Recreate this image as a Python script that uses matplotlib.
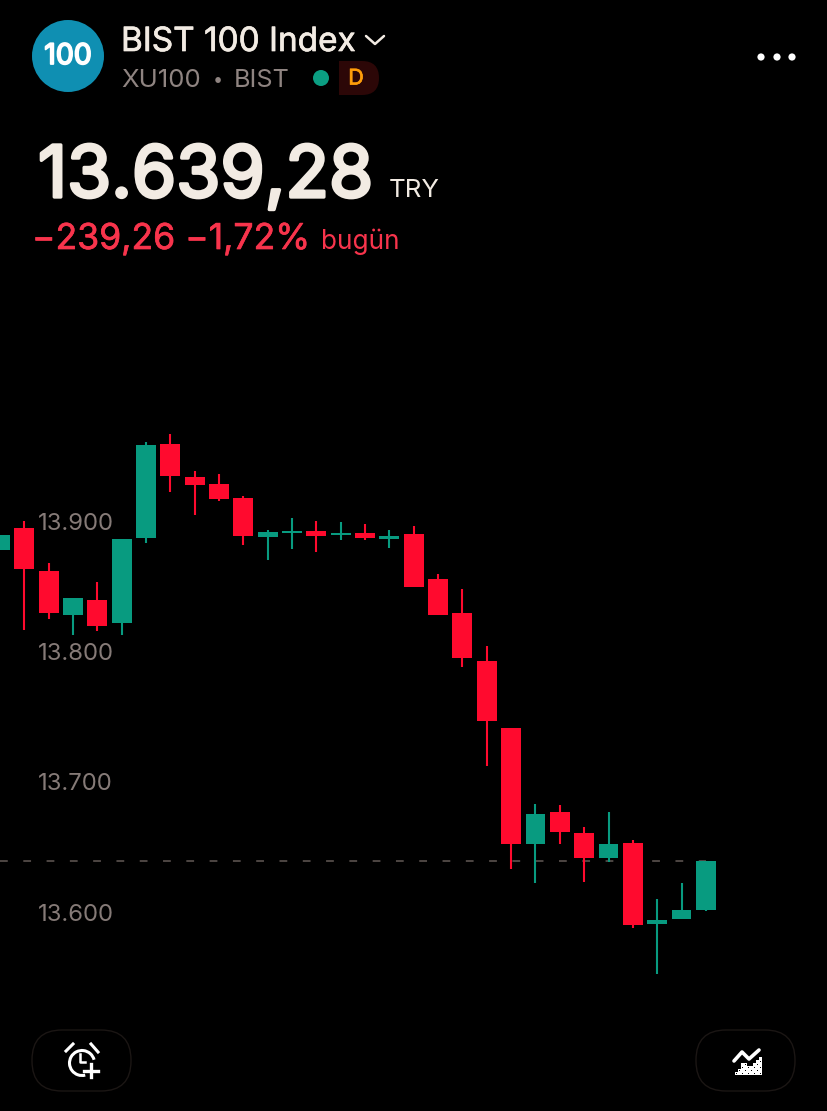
import matplotlib
matplotlib.use('Agg')
import matplotlib.pyplot as plt
import matplotlib.patheffects as pe
from matplotlib.patches import Circle, FancyBboxPatch, Rectangle, Arc, PathPatch
from matplotlib.path import Path
from matplotlib.ticker import FuncFormatter
import numpy as np

# candle values
opens = [13878, 13894.7, 13861.7, 13828, 13839.4, 13821.8, 13887, 13959.2, 13933.8, 13928.5,
         13917.7, 13887.8, 13890.9, 13892.4, 13889.3, 13890.9, 13886.3, 13890.1, 13855.6, 13829.5,
         13792.6, 13741.2, 13652.2, 13676.7, 13660.6, 13641.4, 13653, 13590.8, 13594.6, 13601.5]
closes = [13889.3, 13863.2, 13829.5, 13841, 13819.5, 13886.3, 13958.4, 13934.6, 13927.7, 13917,
          13888.6, 13891.6, 13892.4, 13888.6, 13890.9, 13887, 13888.6, 13849.4, 13827.9, 13794.9,
          13746.6, 13652.2, 13675.2, 13661.4, 13641.4, 13652.2, 13590, 13593.9, 13601.5, 13639.28]
highs = [13889.3, 13900, 13867.8, 13841, 13853.3, 13886.3, 13960.7, 13966.8, 13938.4, 13936.1,
         13919.3, 13893.2, 13902.4, 13900.1, 13899.3, 13897.8, 13893.2, 13896.2, 13859.4, 13847.9,
         13804.1, 13741.2, 13682.9, 13682.1, 13665.2, 13676.7, 13655.3, 13610, 13622.3, 13639.28]
lows = [13878, 13816.4, 13824.9, 13812.6, 13815.7, 13812.6, 13883.2, 13922.3, 13904.7, 13915.4,
        13881.7, 13870.1, 13878.6, 13876.3, 13885.5, 13885.5, 13879.4, 13849.4, 13827.9, 13788,
        13712, 13633, 13622.3, 13652.2, 13623, 13638.4, 13587.7, 13552.4, 13594.6, 13600.8]
price_ticks = [13600, 13700, 13800, 13900]
last_price = 13639.28

RED = '#ff0a2e'
GREEN = '#089b80'
CREAM = '#f2ebe3'
GREY = '#8f8481'
RED_TEXT = '#f8344c'
W, H = 827, 1111
PX_X = 24.34   # pixels per candle
PX_Y = 1.303   # pixels per price unit

plt.rcParams['font.family'] = ['Inter', 'DejaVu Sans']


def heavier(color, width):
    # the installed Inter only draws one weight, thicken it with a stroke
    return [pe.withStroke(linewidth=width, foreground=color)]


fig = plt.figure(figsize=(W / 100, H / 100), dpi=100, facecolor='black')

# price chart fills the whole figure, ticks sit inside
ax = fig.add_axes([0, 0, 1, 1], facecolor='black')
ax.set_xlim(0, W / PX_X)
ax.set_ylim(13600 + (912 - H) / PX_Y, 13600 + 912 / PX_Y)
for s in ax.spines.values():
    s.set_visible(False)
ax.set_xticks([])
ax.set_yticks(price_ticks)
ax.yaxis.set_major_formatter(FuncFormatter(lambda v, p: f'{int(v):,}'.replace(',', '.')))
ax.tick_params(axis='y', length=0, pad=-27.4, labelsize=17.2, labelcolor='#857a77', direction='in')
for lab in ax.get_yticklabels():
    lab.set_ha('left')

x = np.arange(len(opens))
colors = [GREEN if c >= o else RED for o, c in zip(opens, closes)]

ax.plot([0, x[-1]], [last_price, last_price], color='#544c49', lw=1.3,
        dashes=(4.3, 8.6), zorder=1)
ax.vlines(x, lows, highs, colors=colors, lw=1.5, zorder=2)
ax.bar(x, np.abs(np.array(closes) - np.array(opens)), bottom=np.minimum(opens, closes),
       width=0.82, color=colors, zorder=3)

# header and buttons use a pixel overlay
ov = fig.add_axes([0, 0, 1, 1], facecolor='none')
ov.set_xlim(0, W)
ov.set_ylim(H, 0)
ov.axis('off')

ov.add_patch(Circle((68, 56), 36, fc='#0f8fb2', ec='none'))
ov.text(68, 56.5, '100', color='white', fontsize=20.5, ha='center', va='center',
        path_effects=heavier('white', 1.3))
ov.text(121, 51, 'BIST 100 Index', color=CREAM, fontsize=24, va='baseline',
        path_effects=heavier(CREAM, 0.5))
ov.plot([366, 375, 384], [36, 44, 36], color=CREAM, lw=1.8, solid_capstyle='round')
ov.text(121, 87, 'XU100', color=GREY, fontsize=18.6, va='baseline')
ov.text(218, 85, '•', color=GREY, fontsize=13, va='baseline', ha='center')
ov.text(234, 87, 'BIST', color=GREY, fontsize=18.2, va='baseline')
ov.add_patch(Circle((321, 78), 8, fc='#0b9e82', ec='none'))

# D badge: square on the left, rounded on the right
badge = Path([(339, 61), (362, 61), (379, 61), (379, 78), (379, 95), (362, 95), (339, 95), (339, 61)],
             [Path.MOVETO, Path.LINETO, Path.CURVE3, Path.CURVE3, Path.CURVE3, Path.CURVE3, Path.LINETO, Path.CLOSEPOLY])
ov.add_patch(PathPatch(badge, fc='#2c0707', ec='none'))
ov.text(356, 78.5, 'D', color='#ff9d0a', fontsize=15.5, ha='center', va='center',
        path_effects=heavier('#ff9d0a', 0.5))

ov.text(38, 197, '13.639,28', color=CREAM, fontsize=51.5, va='baseline',
        path_effects=heavier(CREAM, 2.4))
ov.text(389, 197, 'TRY', color=CREAM, fontsize=18.6, va='baseline')
ov.text(32, 249, '−239,26 −1,72%', color=RED_TEXT, fontsize=25.6, va='baseline',
        path_effects=heavier(RED_TEXT, 0.5))
ov.text(321, 249, 'bugün', color=RED_TEXT, fontsize=18.8, va='baseline')

for dx in [761, 777, 792]:
    ov.add_patch(Circle((dx, 57), 3.6, fc='white', ec='none'))

# pill buttons
for bx in [32, 696]:
    ov.add_patch(FancyBboxPatch((bx + 30, 1030 + 30), 99 - 60, 1, boxstyle='round,pad=30',
                                fc='none', ec='#1b1614', lw=1))

# alarm icon
ov.add_patch(Arc((82, 1063), 25, 25, theta1=75, theta2=-15 + 360, angle=0, color='white', lw=2.2))
ov.plot([66, 73], [1051, 1044], color='white', lw=2.2)
ov.plot([91, 98], [1044, 1052], color='white', lw=2.2)
ov.plot([80, 80, 85], [1054, 1062, 1062], color='white', lw=1.8)
ov.plot([91, 91], [1064, 1077], color='white', lw=2.4)
ov.plot([84, 98], [1070.5, 1070.5], color='white', lw=2.4)

# chart icon
ov.plot([734, 742, 749, 759], [1061, 1052, 1059, 1050], color='white', lw=2.6, solid_capstyle='round')
px = [732, 742, 748, 760]
py = [1074, 1061, 1067, 1056]
for i, ix in enumerate(range(732, 760, 3)):
    top = np.interp(ix, px, py)
    for j, iy in enumerate(range(1057, 1074, 3)):
        if iy >= top:
            ov.add_patch(Rectangle((ix, iy), 3, 3, fc='white', ec='none'))
            if (i + j) % 2 == 0:
                ov.add_patch(Rectangle((ix + 1, iy + 1), 1, 1, fc='black', ec='none'))

fig.savefig('out.png', dpi=100, facecolor='black')
